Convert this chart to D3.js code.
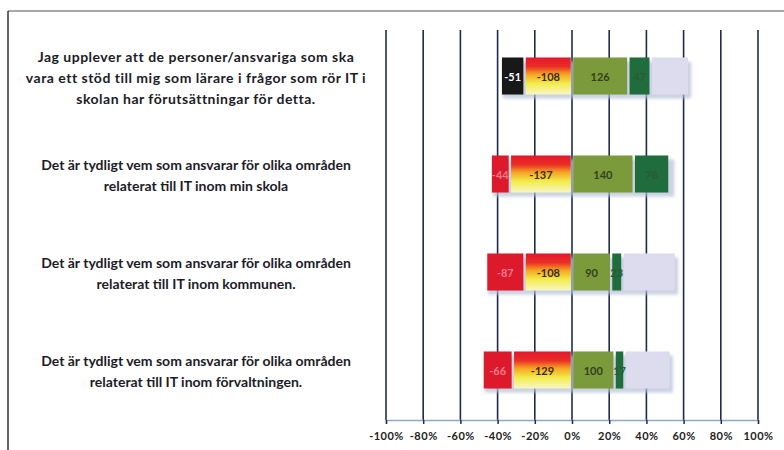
<!DOCTYPE html>
<html><head><meta charset="utf-8">
<script src="https://cdn.jsdelivr.net/npm/d3@7"></script>
<style>
html,body{margin:0;padding:0;background:#fff;}
svg{display:block;}
</style></head>
<body>
<svg id="chart" width="784" height="450"></svg>
<script>
// ---- data ----
const questions = [
  ["Jag upplever att de personer/ansvariga som ska", "vara ett stöd till mig som lärare i frågor som rör IT i", "skolan har förutsättningar för detta."],
  ["Det är tydligt vem som ansvarar för olika områden", "relaterat till IT inom min skola"],
  ["Det är tydligt vem som ansvarar för olika områden", "relaterat till IT inom kommunen."],
  ["Det är tydligt vem som ansvarar för olika områden", "relaterat till IT inom förvaltningen."]
];
// segment shares (percent of respondents)
const pctStronglyDisagree = [12.8, 10.3, 20.7, 16.3];
const pctDisagree = [25.5, 33.4, 25.5, 31.8];
const pctAgree = [30.3, 33.2, 21.0, 22.9];
const pctStronglyAgree = [12.0, 19.2, 6.1, 5.3];
const pctDontKnow = [20.7, 1.5, 28.8, 25.0];
// data labels (number of answers) shown in the segments
const nStronglyDisagree = [-51, -44, -87, -66];
const nDisagree = [-108, -137, -108, -129];
const nAgree = [126, 140, 90, 100];
const nStronglyAgree = [47, 78, 23, 17];
const tickValues = [-100, -80, -60, -40, -20, 0, 20, 40, 60, 80, 100];

// ---- drawing ----
const svg = d3.select("#chart");
const defs = svg.append("defs");
const grad = defs.append("linearGradient").attr("id", "negGrad")
  .attr("x1", 0).attr("y1", 0).attr("x2", 0).attr("y2", 1);
grad.append("stop").attr("offset", "0%").attr("stop-color", "#e3162b");
grad.append("stop").attr("offset", "25%").attr("stop-color", "#ea2f25");
grad.append("stop").attr("offset", "45%").attr("stop-color", "#f4a323");
grad.append("stop").attr("offset", "70%").attr("stop-color", "#f2ec4a");
grad.append("stop").attr("offset", "100%").attr("stop-color", "#f8f6c8");
const blur = defs.append("filter").attr("id", "shadow").attr("x", "-10%").attr("y", "-50%").attr("width", "120%").attr("height", "200%");
blur.append("feGaussianBlur").attr("stdDeviation", 1.6);

const x = d3.scaleLinear().domain([-100, 100]).range([386, 758]);
const y = d3.scaleBand().domain(d3.range(questions.length)).range([27, 419])
  .paddingInner(0.622).paddingOuter(0.311);

// frame
svg.append("line").attr("x1", 8).attr("x2", 784).attr("y1", 11).attr("y2", 11)
  .attr("stroke", "#8a8a8a").attr("stroke-width", 1.5);
svg.append("line").attr("x1", 8).attr("x2", 8).attr("y1", 11).attr("y2", 450)
  .attr("stroke", "#333").attr("stroke-width", 1.5);

// gridlines
svg.append("g").selectAll("line").data(tickValues).join("line")
  .attr("x1", d => x(d)).attr("x2", d => x(d))
  .attr("y1", 30).attr("y2", 420)
  .attr("stroke", "#1d2b4c").attr("stroke-width", 1.6);

// axis
const axis = svg.append("g").attr("transform", "translate(0,420)")
  .call(d3.axisBottom(x).tickValues(tickValues).tickFormat(d => d + "%").tickSize(4).tickPadding(8));
axis.select(".domain").attr("stroke", "#93a6c4").attr("stroke-width", 1.5);
axis.selectAll(".tick line").attr("stroke", "#1d2b4c").attr("stroke-width", 1.5);
axis.selectAll("text").attr("font-family", "Lato, Liberation Sans, Arial, sans-serif")
  .attr("font-size", 11).attr("letter-spacing", 0.5).attr("font-weight", "bold").attr("fill", "#222");

// segments
const rows = questions.map((q, i) => {
  const sd = pctStronglyDisagree[i], d = pctDisagree[i];
  const a = pctAgree[i], sa = pctStronglyAgree[i], dk = pctDontKnow[i];
  return {i, segs: [
    {x0: -(d + sd), x1: -d, label: nStronglyDisagree[i], kind: i === 0 ? "black" : "red"},
    {x0: -d, x1: 0, label: nDisagree[i], kind: "grad"},
    {x0: 0, x1: a, label: nAgree[i], kind: "olive"},
    {x0: a, x1: a + sa, label: nStronglyAgree[i], kind: "dgreen"},
    {x0: a + sa, x1: a + sa + dk, label: null, kind: "lav"}
  ]};
});
const fills = {black: "#181818", red: "#dc1a2c", grad: "url(#negGrad)", olive: "#7b9a3c", dgreen: "#1f6c3c", lav: "#dcdcee"};
const textCol = {black: "#ffffff", red: "#f07a8a", grad: "#3a2a10", olive: "#33401a", dgreen: "#2c5a34"};

const bars = svg.append("g").selectAll("g").data(rows).join("g")
  .attr("transform", d => `translate(0,${y(d.i)})`);
const bw = y.bandwidth();
// shadow
bars.append("rect")
  .attr("x", d => x(d.segs[0].x0) + 2)
  .attr("width", d => x(d.segs[4].x1) - x(d.segs[0].x0))
  .attr("y", 4).attr("height", bw)
  .attr("fill", "#b4bed4").attr("opacity", 0.7).attr("filter", "url(#shadow)");
bars.selectAll("rect.seg").data(d => d.segs).join("rect").attr("class", "seg")
  .attr("x", s => x(s.x0) + 1.2)
  .attr("width", s => Math.max(0, x(s.x1) - x(s.x0) - 2.4))
  .attr("y", 0).attr("height", bw)
  .attr("fill", s => fills[s.kind]);
bars.selectAll("text.lab").data(d => d.segs.filter(s => s.label !== null)).join("text").attr("class", "lab")
  .attr("x", s => (x(s.x0) + x(s.x1)) / 2)
  .attr("y", bw / 2 + 1)
  .attr("dy", "0.35em")
  .attr("text-anchor", "middle")
  .attr("font-family", "Lato, Liberation Sans, Arial, sans-serif")
  .attr("font-size", 11).attr("font-weight", "bold")
  .attr("fill", s => textCol[s.kind])
  .text(s => s.label);

// category labels
const lab = svg.append("g").selectAll("text").data(rows).join("text")
  .attr("font-family", "Lato, Liberation Sans, Arial, sans-serif")
  .attr("font-size", 14).attr("font-weight", "bold").attr("fill", "#1c1c28")
  .attr("letter-spacing", d => d.i === 0 ? 0.5 : 0)
  .attr("text-anchor", "middle");
lab.each(function(d) {
  const lines = questions[d.i];
  const c = y(d.i) + bw / 2 + 2;
  const t = d3.select(this);
  lines.forEach((ln, k) => {
    t.append("tspan").attr("x", 196)
      .attr("y", c + (k - (lines.length - 1) / 2) * 21)
      .attr("dy", "0.35em").text(ln);
  });
});
</script>
</body></html>
